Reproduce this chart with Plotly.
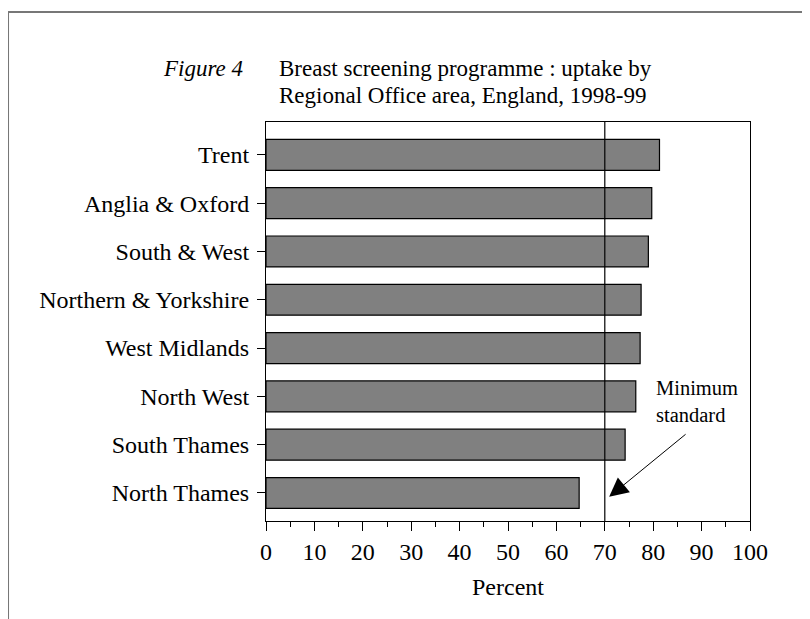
import plotly.graph_objects as go

regions = ["Trent", "Anglia & Oxford", "South & West", "Northern & Yorkshire",
           "West Midlands", "North West", "South Thames", "North Thames"]
uptake = [81.3, 79.7, 79.0, 77.5, 77.3, 76.4, 74.2, 64.7]
minimum_standard = 70
x_ticks = list(range(0, 101, 10))

FONT = "Liberation Serif, Times New Roman, serif"

fig = go.Figure()
fig.add_trace(go.Bar(
    y=regions, x=uptake, orientation="h",
    marker=dict(color="#808080", line=dict(color="#000000", width=1.2)),
    width=0.64, showlegend=False, hoverinfo="x+y",
))

fig.add_shape(type="line", xref="x", yref="paper", x0=minimum_standard, x1=minimum_standard,
              y0=0, y1=1, line=dict(color="#000000", width=1.2), layer="above")

# outer frame (left & top)
fig.add_shape(type="line", xref="paper", yref="paper", x0=-0.533, x1=-0.533, y0=1.2757, y1=-0.3,
              line=dict(color="#777777", width=2))
fig.add_shape(type="line", xref="paper", yref="paper", x0=-0.533, x1=1.2, y0=1.2757, y1=1.2757,
              line=dict(color="#777777", width=2))

fig.add_annotation(x=70.9, y=-0.08, ax=87.0, ay=1.24, xref="x", yref="y", axref="x", ayref="y",
                   text="", showarrow=True, arrowhead=2, arrowsize=3.8, arrowwidth=1,
                   arrowcolor="#000000")
fig.add_annotation(x=89.0, y=1.9, xref="x", yref="y", text="Minimum<br>standard",
                   showarrow=False, align="left", font=dict(family=FONT, size=20.5, color="#000"))

fig.add_annotation(x=-0.2175, y=1.134, xref="paper", yref="paper", xanchor="left", yanchor="middle",
                   text="<i>Figure 4</i>", showarrow=False, font=dict(family=FONT, size=23, color="#000"))
fig.add_annotation(x=0.0225, y=1.134, xref="paper", yref="paper", xanchor="left", yanchor="middle",
                   text="Breast screening programme : uptake by",
                   showarrow=False, align="left", font=dict(family=FONT, size=23, color="#000"))
fig.add_annotation(x=0.0225, y=1.066, xref="paper", yref="paper", xanchor="left", yanchor="middle",
                   text="Regional Office area, England, 1998-99",
                   showarrow=False, align="left", font=dict(family=FONT, size=23, color="#000"))

fig.update_layout(
    width=810, height=619,
    margin=dict(l=258, r=68, t=114, b=106),
    paper_bgcolor="white", plot_bgcolor="white",
    font=dict(family=FONT, size=24, color="#000"),
    bargap=0.36,
)
fig.update_xaxes(range=[0, 100], tickvals=x_ticks, ticks="outside", ticklen=9, tickcolor="#000",
                 showline=True, linecolor="#000", linewidth=1, mirror=True, showgrid=False,
                 zeroline=False, ticklabelstandoff=0,
                 title=dict(text="Percent", standoff=14, font=dict(family=FONT, size=24)),
                 minor=dict(dtick=5, ticks="outside", ticklen=5, tickcolor="#000"),
                 tickfont=dict(family=FONT, size=24))
fig.update_yaxes(categoryorder="array", categoryarray=regions[::-1], range=[-0.58, 7.68],
                 ticks="outside", ticklen=8, tickcolor="#000", showline=True, linecolor="#000",
                 linewidth=1, mirror=True, showgrid=False, ticklabelstandoff=3,
                 tickfont=dict(family=FONT, size=24))

fig.write_html("out.html")
